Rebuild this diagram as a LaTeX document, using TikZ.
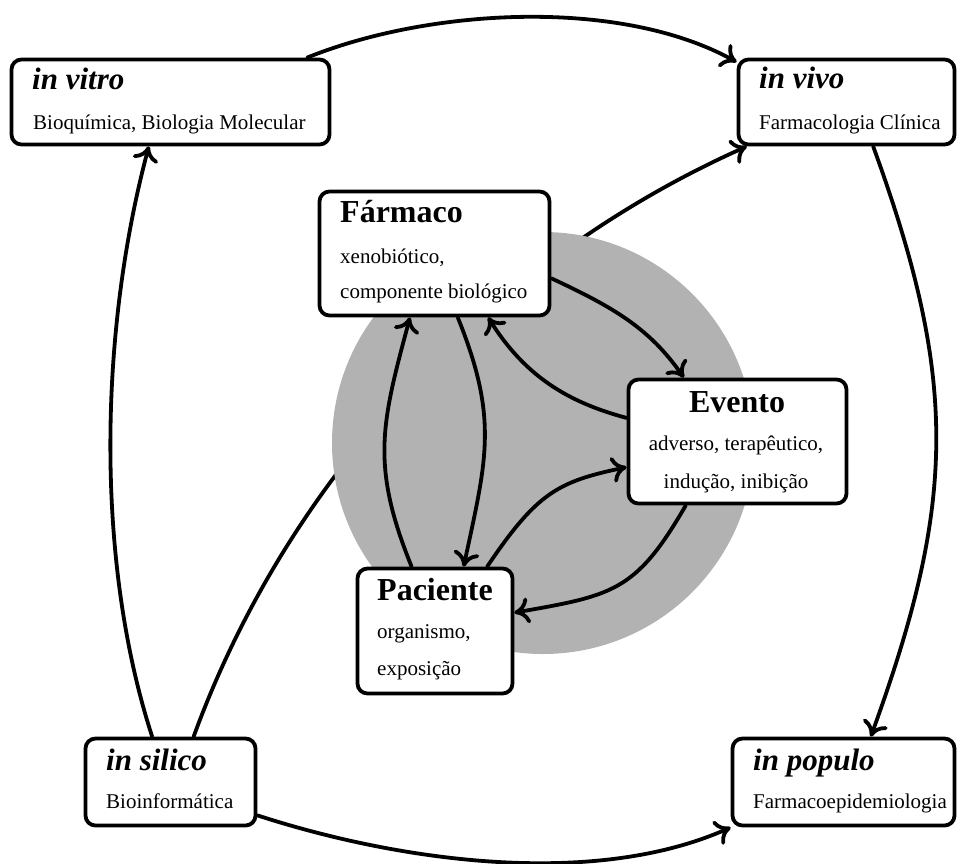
\documentclass[tikz,border=0pt]{standalone}
\usepackage{fontspec}
\setmainfont{Liberation Serif}
\usetikzlibrary{arrows.meta}
\pgfdeclarelayer{under}
\pgfdeclarelayer{disc}
\pgfsetlayers{under,disc,main}
\begin{document}
\begin{tikzpicture}[x=1pt,y=1pt,
  box/.style={draw, line width=3.8pt, rounded corners=10pt, fill=white, inner sep=0pt},
  conn/.style={line width=3.8pt, line cap=round, -{Computer Modern Rightarrow[length=15pt,width=26pt,line width=3.8pt]}},
  ttl/.style={anchor=base west, inner sep=0pt, font=\fontsize{31}{36}\selectfont\bfseries\itshape},
  hd/.style={inner sep=0pt, font=\fontsize{32}{36}\selectfont\bfseries},
  txt/.style={anchor=base west, inner sep=0pt, font=\fontsize{21}{25}\selectfont}]
\useasboundingbox (0,0) rectangle (958,-863);

% outer boxes
\node[box, minimum width=318pt, minimum height=85pt] (vitro) at (170.5,-102) {};
\node[box, minimum width=216pt, minimum height=85pt] (vivo) at (846.5,-102) {};
\node[box, minimum width=170pt, minimum height=87pt] (silico) at (170.5,-782) {};
\node[box, minimum width=222pt, minimum height=87pt] (populo) at (843.5,-782) {};

% inner boxes
\node[box, minimum width=230pt, minimum height=124pt] (farmaco) at (434.5,-253.5) {};
\node[box, minimum width=218pt, minimum height=124pt] (evento) at (737.5,-441.5) {};
\node[box, minimum width=155pt, minimum height=125pt] (paciente) at (435,-631) {};

% box texts
\node[ttl] (vitro-t) at (32,-89) {in vitro};
\node[txt] (vitro-s) at (33,-129) {Bioquímica, Biologia Molecular};
\node[ttl] (vivo-t) at (759,-88) {in vivo};
\node[txt] (vivo-s) at (759,-129) {Farmacologia Clínica};
\node[ttl] (silico-t) at (106,-770) {in silico};
\node[txt] (silico-s) at (106,-808) {Bioinformática};
\node[ttl] (populo-t) at (753,-770) {in populo};
\node[txt] (populo-s) at (753,-808) {Farmacoepidemiologia};

\node[hd, anchor=base west] (farmaco-t) at (340,-222) {Fármaco};
\node[txt] (farmaco-a) at (340,-263) {xenobiótico,};
\node[txt] (farmaco-b) at (340,-298) {componente biológico};
\node[hd, anchor=base] (evento-t) at (737,-412) {Evento};
\node[txt, anchor=base] (evento-a) at (736,-450) {adverso, terapêutico,};
\node[txt, anchor=base] (evento-b) at (736,-488) {indução, inibição};
\node[hd, anchor=base west] (paciente-t) at (377,-600) {Paciente};
\node[txt] (paciente-a) at (377,-638) {organismo,};
\node[txt] (paciente-b) at (377,-675) {exposição};

% grey disc behind the inner triangle, covering the long curve
\begin{pgfonlayer}{disc}
  \fill[black!30] (543,-443) circle (211);
\end{pgfonlayer}
\begin{pgfonlayer}{under}
  \draw[conn] (silico.63) to[out=70, in=204, out distance=279pt, in distance=277pt] (vivo.204);
\end{pgfonlayer}

% outer cycle
\draw[conn] (vitro.18) to[out=22, in=151, out distance=132pt, in distance=133pt] (vivo.160);
\draw[conn] (vivo.301) to[out=-70, in=70, out distance=250pt, in distance=250pt] (populo.59);
\draw[conn] (silico.339) to[out=-18, in=204, out distance=150pt, in distance=150pt] (populo.south west);
\draw[conn] (silico.112) to[out=108, in=255, out distance=186pt, in distance=190pt] (vitro.244);

% inner triangle
\draw[conn] (farmaco.348) to[out=-25, in=125, out distance=70pt, in distance=60pt] (evento.130);
\draw[conn] (evento.168) to[out=165, in=-58, out distance=60pt, in distance=70pt] (farmaco.310);
\draw[conn] (farmaco.290) to[out=-68, in=78, out distance=110pt, in distance=110pt] (paciente.66);
\draw[conn] (paciente.110) to[out=112, in=255, out distance=110pt, in distance=110pt] (farmaco.249);
\draw[conn] (paciente.51) to[out=56, in=192, out distance=90pt, in distance=70pt] (evento.193);
\draw[conn] (evento.231) to[out=240, in=10, out distance=100pt, in distance=100pt] (paciente.13);
\end{tikzpicture}
\end{document}
